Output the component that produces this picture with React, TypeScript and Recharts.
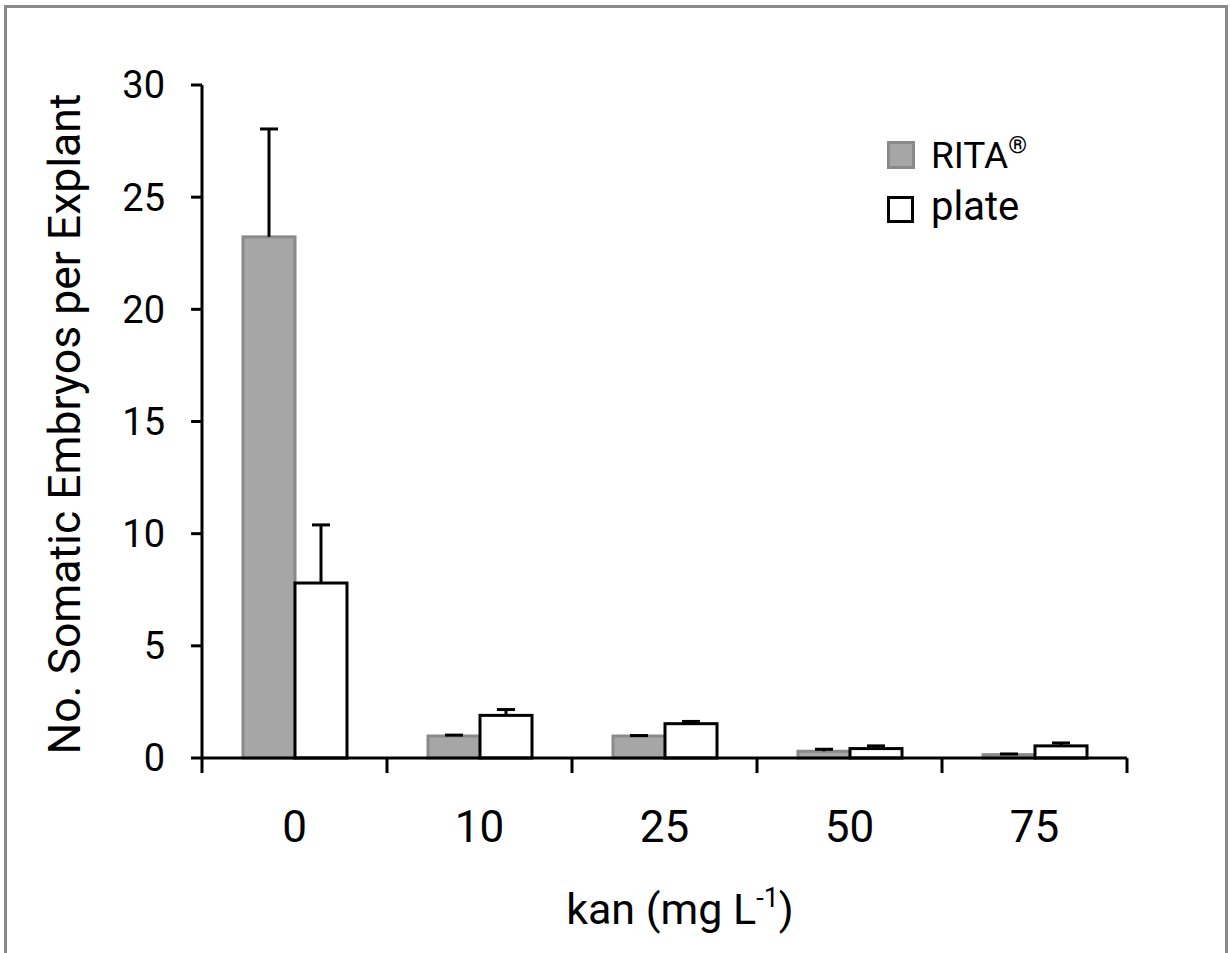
import { BarChart, Bar, XAxis, YAxis, Legend } from 'recharts';

const categories = ['0', '10', '25', '50', '75'];
const ritaMeans = [23.23, 0.98, 0.98, 0.3, 0.15];
const ritaErrors = [4.81, 0.04, 0.02, 0.09, 0.03];
const plateMeans = [7.8, 1.9, 1.53, 0.42, 0.54];
const plateErrors = [2.59, 0.26, 0.1, 0.12, 0.13];
const yTicks = [0, 5, 10, 15, 20, 25, 30];

const rows = categories.map((kan, i) => ({
  kan,
  rita: ritaMeans[i],
  ritaErr: ritaErrors[i],
  plate: plateMeans[i],
  plateErr: plateErrors[i],
}));

const FONT = 'Roboto, sans-serif';
const W = 1230;
const H = 953;
const M = { top: 85, right: 103, left: 0, bottom: 135 };
const Y_W = 202;

// bar + plus-only error bar (excel style)
const barWithError = (key: 'rita' | 'plate', errKey: 'ritaErr' | 'plateErr') => (props: any) => {
  const { x, y, width, height, fill, stroke, payload } = props;
  const v = payload[key];
  const k = v ? height / v : 0;
  const cx = x + width / 2;
  const top = y - payload[errKey] * k;
  return (
    <g>
      <rect x={x} y={y} width={width} height={height} fill={fill} stroke={stroke} strokeWidth={3} />
      <line x1={cx} y1={y} x2={cx} y2={top} stroke="#000" strokeWidth={3} />
      <line x1={cx - 9} y1={top} x2={cx + 9} y2={top} stroke="#000" strokeWidth={3} />
    </g>
  );
};

const XTick = (props: any) => {
  const { x, y, payload, index, visibleTicksCount } = props;
  const half = payload?.offset || (W - Y_W - M.right) / categories.length / 2;
  const last = index === (visibleTicksCount ?? categories.length) - 1;
  return (
    <g>
      <line x1={x - half} y1={y} x2={x - half} y2={y + 15} stroke="#000" strokeWidth={3} />
      {last && <line x1={x + half} y1={y} x2={x + half} y2={y + 15} stroke="#000" strokeWidth={3} />}
      <text x={x} y={y + 84} textAnchor="middle" fontFamily={FONT} fontSize={44} fill="#000">
        {payload.value}
      </text>
    </g>
  );
};

const LegendBox = () => (
  <svg width={200} height={110}>
    <rect x={9.5} y={13.5} width={25} height={25} fill="#a6a6a6" stroke="#8a8a8a" strokeWidth={3} />
    <text x={52} y={39} fontFamily={FONT} fontSize={37} fill="#000">
      RITA<tspan fontSize={24} dy={-15}>®</tspan>
    </text>
    <rect x={9.5} y={68.5} width={24} height={24} fill="#fff" stroke="#000" strokeWidth={3} />
    <text x={52} y={91} fontFamily={FONT} fontSize={40} fill="#000">plate</text>
  </svg>
);

export default function App() {
  return (
    <div style={{ position: 'absolute', left: 0, top: 0, width: W, height: H, overflow: 'hidden', background: '#fff' }}>
      <div style={{ position: 'absolute', left: 4, top: 5, width: 1224, height: 1100, border: '3px solid #8a8a8a', boxSizing: 'border-box' }} />
      <div style={{ position: 'absolute', left: 0, top: 0 }}>
        <BarChart width={W} height={H} data={rows} margin={M} barGap={0} barSize={52}>
          <XAxis
            dataKey="kan"
            height={60}
            tickLine={false}
            tickSize={0}
            tickMargin={0}
            axisLine={{ stroke: '#000', strokeWidth: 3 }}
            tick={<XTick />}
            interval={0}
          />
          <YAxis
            width={Y_W}
            domain={[0, 30]}
            ticks={yTicks}
            axisLine={{ stroke: '#000', strokeWidth: 3 }}
            tickLine={{ stroke: '#000', strokeWidth: 3 }}
            tickSize={11}
            tickMargin={26}
            tick={{ fill: '#000', fontSize: 38, fontFamily: FONT }}
          />
          <Legend
            layout="vertical"
            align="center"
            verticalAlign="middle"
            content={<LegendBox />}
            wrapperStyle={{ left: 879, top: 129, width: 200, height: 110 }}
          />
          <Bar dataKey="rita" name="RITA®" fill="#a6a6a6" stroke="#8a8a8a" shape={barWithError('rita', 'ritaErr')} isAnimationActive={false} />
          <Bar dataKey="plate" name="plate" fill="#ffffff" stroke="#000" shape={barWithError('plate', 'plateErr')} isAnimationActive={false} />
        </BarChart>
      </div>
      <svg width={W} height={H} style={{ position: 'absolute', left: 0, top: 0, pointerEvents: 'none' }}>
        <text transform="translate(80, 424) rotate(-90)" textAnchor="middle" fontFamily={FONT} fontSize={44.5} fill="#000">
          No. Somatic Embryos per Explant
        </text>
        <text x={680} y={924} textAnchor="middle" fontFamily={FONT} fontSize={43} fill="#000">
          kan (mg L<tspan fontSize={27} dy={-17}>-1</tspan><tspan dy={17}>)</tspan>
        </text>
      </svg>
    </div>
  );
}
